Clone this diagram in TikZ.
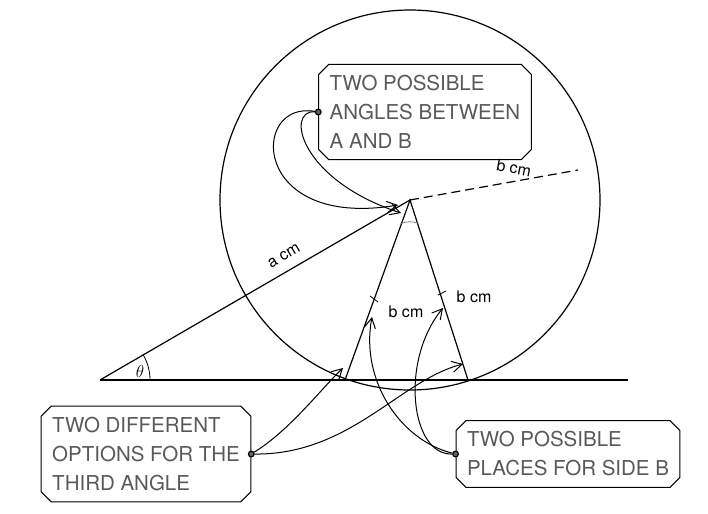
\documentclass[tikz,border=0pt]{standalone}
\usepackage{fontspec}
\setmainfont{TeX Gyre Heros}
\usetikzlibrary{shapes.misc,arrows.meta}
\begin{document}
\begin{tikzpicture}[x=1pt,y=-1pt,line width=1.2pt,
  lbl/.style={draw,chamfered rectangle,chamfered rectangle corners={north west,south west,north east,south east},chamfered rectangle xsep=5pt,chamfered rectangle ysep=5pt,align=left,inner sep=6pt,font=\fontsize{20.5}{29}\selectfont,text=black!65,line width=1pt},
  small/.style={font=\fontsize{16}{18}\selectfont},
  arr/.style={-{Straight Barb[length=10pt,width=11pt]},line width=1pt},
  dot/.style={circle,fill=black!60,inner sep=2pt,draw=black}]
\useasboundingbox (0,0) rectangle (708,513);
\coordinate (A) at (410,200);
\coordinate (O) at (100,380);
\coordinate (L) at (345,380);
\coordinate (R) at (468,380);
\coordinate (E) at (628,380);
\coordinate (D) at (578,170);
\draw (A) circle (190);
\draw (O) -- (E);
\draw (O) -- (A);
\draw (L) -- (A) -- (R);
\draw[dashed,dash pattern=on 9pt off 5pt] (A) -- (D);
\draw[line width=0.8pt] (150,380) arc (0:-30:50);
\draw[line width=0.8pt,black!50] (400,224) arc (-115:-70:24);
\node[small] (th) at (140,371) {$\theta$};
\node[small,rotate=30] (ac) at (284,256) {a cm};
\node[small,rotate=-11] (bc1) at (514,168) {b cm};
\node[small] (bc2) at (406,312) {b cm};
\node[small] (bc3) at (474,297) {b cm};
\draw[line width=0.8pt] (370,296)--(378,302);
\draw[line width=0.8pt] (438,295)--(446,291);
\node[lbl] (b1) at (425,112) {TWO POSSIBLE\\ANGLES BETWEEN\\A AND B};
\node[lbl] (b2) at (146,454) {TWO DIFFERENT\\OPTIONS FOR THE\\THIRD ANGLE};
\node[lbl] (b3) at (568,454) {TWO POSSIBLE\\PLACES FOR SIDE B};
\node[dot] (d1) at (b1.west) {};
\node[dot] (d2) at (b2.east) {};
\node[dot] (d3) at (b3.west) {};
\coordinate (t1) at (398,205);
\coordinate (t2) at (401,213);
\coordinate (t3) at (343,368);
\coordinate (t4) at (463,364);
\coordinate (t5) at (372,317);
\coordinate (t6) at (443,308);
\draw[arr] (d1) .. controls (250,100) and (250,230) .. (t1);
\draw[arr] (d1) .. controls (285,110) and (300,180) .. (t2);
\draw[arr] (d2) .. controls (290,430) and (320,390) .. (t3);
\draw[arr] (d2) .. controls (350,455) and (400,380) .. (t4);
\draw[arr] (d3) .. controls (400,440) and (360,380) .. (t5);
\draw[arr] (d3) .. controls (410,455) and (400,360) .. (t6);
\end{tikzpicture}
\end{document}
